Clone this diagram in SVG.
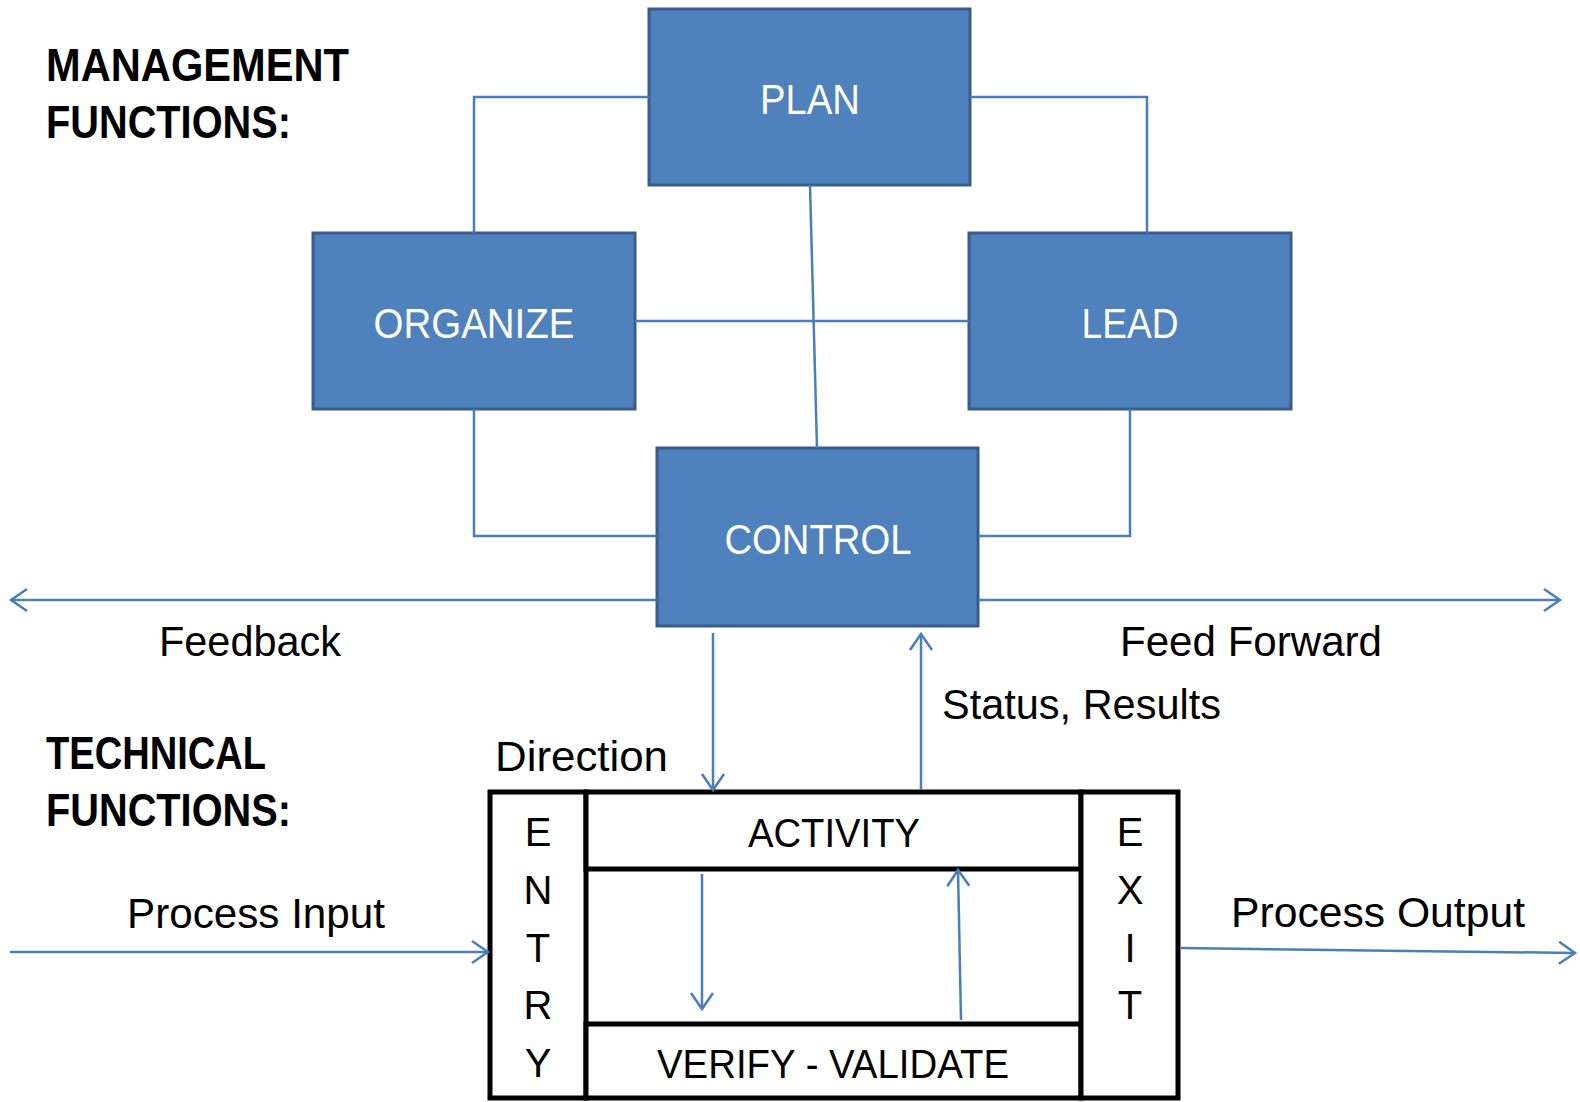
<svg xmlns="http://www.w3.org/2000/svg" width="1580" height="1102" viewBox="0 0 1580 1102">
<defs>
<style>
.box{fill:#4F81BD;stroke:#385D8A;stroke-width:3}
.lbl{font-family:"Liberation Sans",Arial,sans-serif;font-size:42px;fill:#000}
.wl{font-family:"Liberation Sans",Arial,sans-serif;font-size:42px;fill:#fff;text-anchor:middle}
.hd{font-family:"Liberation Sans",Arial,sans-serif;font-size:46px;font-weight:bold;fill:#000}
.ltr{font-family:"Liberation Sans",Arial,sans-serif;font-size:40px;fill:#000;text-anchor:middle}
.blk{fill:#fff;stroke:#000;stroke-width:5}
.con{fill:none;stroke:#4A7EBB;stroke-width:2.5}
.arr{fill:none;stroke:#4A7EBB;stroke-width:2.5;marker-end:url(#ah)}
</style>
<marker id="ah" markerUnits="userSpaceOnUse" markerWidth="40" markerHeight="40" viewBox="-20 -20 40 40" refX="0" refY="0" orient="auto" overflow="visible">
<path d="M-16,-11 L0,0 L-16,11" fill="none" stroke="#4A7EBB" stroke-width="2.5"/>
</marker>
</defs>
<rect width="1580" height="1102" fill="#fff"/>

<g id="headers">
<text class="hd" x="46" y="81" textLength="303" lengthAdjust="spacingAndGlyphs">MANAGEMENT</text>
<text class="hd" x="46" y="138" textLength="245" lengthAdjust="spacingAndGlyphs">FUNCTIONS:</text>
<text class="hd" x="46" y="769" textLength="220" lengthAdjust="spacingAndGlyphs">TECHNICAL</text>
<text class="hd" x="46" y="826" textLength="245" lengthAdjust="spacingAndGlyphs">FUNCTIONS:</text>
</g>

<g id="plan">
<rect class="box" x="649" y="9" width="321" height="176"/>
<text class="wl" x="810" y="114" textLength="100" lengthAdjust="spacingAndGlyphs">PLAN</text>
</g>
<g id="organize">
<rect class="box" x="313" y="233" width="322" height="176"/>
<text class="wl" x="474" y="338" textLength="201" lengthAdjust="spacingAndGlyphs">ORGANIZE</text>
</g>
<g id="lead">
<rect class="box" x="969" y="233" width="322" height="176"/>
<text class="wl" x="1130" y="338" textLength="97" lengthAdjust="spacingAndGlyphs">LEAD</text>
</g>
<g id="control">
<rect class="box" x="657" y="448" width="321" height="178"/>
<text class="wl" x="818" y="554" textLength="187" lengthAdjust="spacingAndGlyphs">CONTROL</text>
</g>

<g id="labels">
<text class="lbl" x="159" y="656" textLength="182" lengthAdjust="spacingAndGlyphs">Feedback</text>
<text class="lbl" x="1120" y="656" textLength="262" lengthAdjust="spacingAndGlyphs">Feed Forward</text>
<text class="lbl" x="942" y="719" textLength="279" lengthAdjust="spacingAndGlyphs">Status, Results</text>
<text class="lbl" x="495" y="771" textLength="173" lengthAdjust="spacingAndGlyphs">Direction</text>
<text class="lbl" x="127" y="928" textLength="258" lengthAdjust="spacingAndGlyphs">Process Input</text>
<text class="lbl" x="1231" y="927" textLength="294" lengthAdjust="spacingAndGlyphs">Process Output</text>
</g>

<g id="entry">
<rect class="blk" x="490" y="792" width="96" height="306"/>
<text class="ltr" x="538" y="846">E</text>
<text class="ltr" x="538" y="904">N</text>
<text class="ltr" x="538" y="962">T</text>
<text class="ltr" x="538" y="1019">R</text>
<text class="ltr" x="538" y="1077">Y</text>
</g>
<g id="activity">
<rect class="blk" x="586" y="792" width="495" height="77"/>
<text class="ltr" x="834" y="847" textLength="172" lengthAdjust="spacingAndGlyphs">ACTIVITY</text>
</g>
<g id="verify">
<rect class="blk" x="586" y="1024" width="495" height="74"/>
<text class="ltr" x="833" y="1078" textLength="352" lengthAdjust="spacingAndGlyphs">VERIFY - VALIDATE</text>
</g>
<g id="exit">
<rect class="blk" x="1081" y="792" width="97" height="306"/>
<text class="ltr" x="1130" y="846">E</text>
<text class="ltr" x="1130" y="904">X</text>
<text class="ltr" x="1130" y="962">I</text>
<text class="ltr" x="1130" y="1019">T</text>
</g>

<g id="connectors">
<polyline class="con" points="649,97 474,97 474,233"/>
<polyline class="con" points="970,97 1147,97 1147,233"/>
<polyline class="con" points="474,409 474,536 657,536"/>
<polyline class="con" points="1130,409 1130,536 978,536"/>
<line class="con" x1="635" y1="321" x2="969" y2="321"/>
<line class="con" x1="810" y1="185" x2="817" y2="448"/>
<line class="arr" x1="657" y1="600" x2="11" y2="600"/>
<line class="arr" x1="978" y1="600" x2="1560" y2="600"/>
<line class="arr" x1="713" y1="633" x2="713" y2="790"/>
<line class="arr" x1="921" y1="790" x2="921" y2="634"/>
<line class="arr" x1="10" y1="952" x2="488" y2="952"/>
<line class="arr" x1="1181" y1="948" x2="1575" y2="953"/>
<line class="arr" x1="702" y1="874" x2="702" y2="1009"/>
<line class="arr" x1="961" y1="1020" x2="958" y2="870"/>
</g>
</svg>
